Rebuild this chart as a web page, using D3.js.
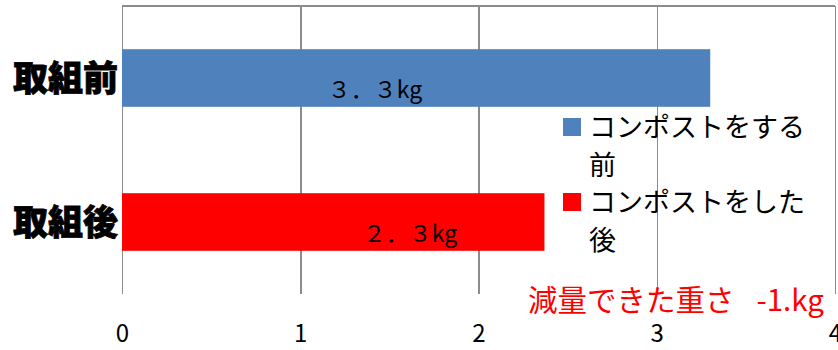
<!DOCTYPE html>
<html lang="ja">
<head>
	<meta charset="utf-8">
	<title>コンポスト</title>
	<script src="https://d3js.org/d3.v7.min.js"></script>
	<style type="text/css">
		body { margin: 0; background: #fff; }
		svg text { font-family: "Noto Sans CJK JP", "Noto Sans", sans-serif; }
		.grid line { stroke: #8c8c8c; stroke-width: 1.5; shape-rendering: crispEdges; }
		.grid path { display: none; }
		.axis path, .axis line { display: none; }
		.axis text { font-size: 24px; fill: #000; }
	</style>
</head>
<body>
	<script type="text/javascript">

		// Data
		var categories = ["取組前", "取組後"];
		var values = [3.30, 2.37];
		var valueLabels = ["３．３kg", "２．３kg"];
		var colors = ["#4f81bd", "#ff0000"];
		var legendNames = [["コンポストをする", "前"], ["コンポストをした", "後"]];
		var xTicks = [0, 1, 2, 3, 4];
		var noteParts = ["減量できた重さ", "-1.kg"];

		var outer_width = 838;
		var outer_height = 350;
		var margin = {top: 6, right: 3, bottom: 56, left: 122};
		var w = outer_width - margin.left - margin.right;
		var h = outer_height - margin.top - margin.bottom;

		var svg = d3.select("body")
					.append("svg")
					.attr("width", outer_width)
					.attr("height", outer_height);

		var g = svg.append("g")
			.attr("transform", "translate(" + margin.left + "," + margin.top + ")");

		var xScale = d3.scaleLinear()
			.domain([0, 4])
			.range([0, w]);

		var yScale = d3.scaleBand()
			.domain(categories)
			.range([0, h])
			.paddingInner(0.6)
			.paddingOuter(0.3);

		// vertical gridlines
		g.append("g")
			.attr("class", "grid")
			.call(d3.axisBottom(xScale).tickValues(xTicks).tickSize(h).tickFormat(""));

		// top border
		g.append("line")
			.attr("x1", xScale(0)).attr("x2", xScale(4))
			.attr("y1", 0).attr("y2", 0)
			.attr("stroke", "#8c8c8c")
			.attr("stroke-width", 1.5)
			.attr("shape-rendering", "crispEdges");

		// x axis labels
		g.append("g")
			.attr("class", "axis")
			.attr("transform", "translate(0," + h + ")")
			.call(d3.axisBottom(xScale).tickValues(xTicks).tickSize(0).tickPadding(31).tickFormat(d3.format("d")));

		// bars
		g.selectAll("rect.bar")
			.data(categories)
			.enter()
			.append("rect")
			.attr("class", "bar")
			.attr("x", xScale(0))
			.attr("y", function(d) { return yScale(d); })
			.attr("width", function(d, i) { return xScale(values[i]) - xScale(0); })
			.attr("height", yScale.bandwidth())
			.attr("fill", function(d, i) { return colors[i]; });

		// category labels
		g.selectAll("text.cat")
			.data(categories)
			.enter()
			.append("text")
			.attr("class", "cat")
			.attr("x", -4)
			.attr("y", function(d) { return yScale(d) + yScale.bandwidth() / 2; })
			.attr("dy", "0.36em")
			.attr("text-anchor", "end")
			.attr("font-size", 35)
			.attr("font-weight", 900)
			.attr("stroke", "#000")
			.attr("stroke-width", 0.8)
			.text(function(d) { return d; });

		// value labels (placed as in the original)
		var labelX = [375, 410];
		g.selectAll("text.val")
			.data(valueLabels)
			.enter()
			.append("text")
			.attr("class", "val")
			.attr("x", function(d, i) { return labelX[i] - margin.left; })
			.attr("y", function(d, i) { return yScale(categories[i]) + yScale.bandwidth() / 2 + 12; })
			.attr("dy", "0.36em")
			.attr("text-anchor", "middle")
			.attr("font-size", 23)
			.attr("fill", "#000")
			.text(function(d) { return d; });

		// legend
		var legendTop = [118, 193];
		var legend = svg.selectAll("g.legend")
			.data(legendNames)
			.enter()
			.append("g")
			.attr("class", "legend")
			.attr("transform", function(d, i) { return "translate(563," + legendTop[i] + ")"; });

		legend.append("rect")
			.attr("width", 18)
			.attr("height", 18)
			.attr("fill", function(d, i) { return colors[i]; });

		legend.each(function(d) {
			var t = d3.select(this).append("text")
				.attr("x", 26)
				.attr("y", 9)
				.attr("font-size", 27)
				.attr("fill", "#000");
			d.forEach(function(line, j) {
				t.append("tspan")
					.attr("x", 26)
					.attr("dy", j === 0 ? "0.36em" : 38)
					.text(line);
			});
		});

		// note
		var note = svg.append("text")
			.attr("x", 528)
			.attr("y", 300)
			.attr("dy", "0.36em")
			.attr("font-size", 29.5)
			.attr("fill", "#ff0000");
		note.append("tspan").text(noteParts[0]);
		note.append("tspan").attr("dx", 22).text(noteParts[1]);

	</script>
</body>
</html>
